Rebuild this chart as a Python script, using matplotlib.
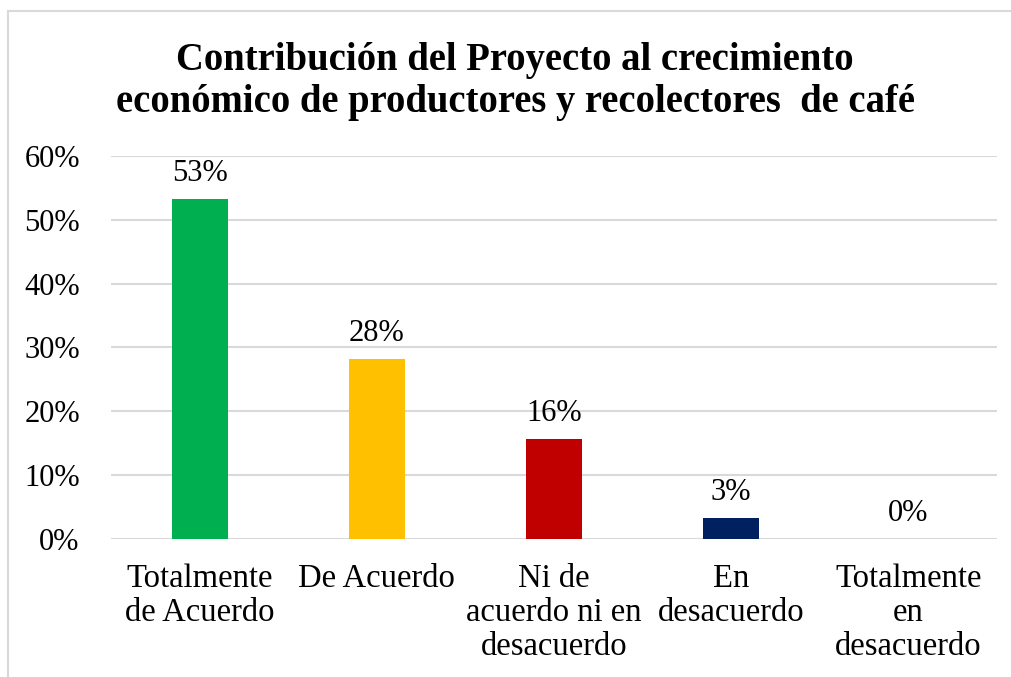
import matplotlib
matplotlib.use("Agg")
import matplotlib.pyplot as plt
from matplotlib.lines import Line2D

categories = ["Totalmente\nde Acuerdo", "De Acuerdo", "Ni de\nacuerdo ni en\ndesacuerdo",
              "En\ndesacuerdo", "Totalmente\nen\ndesacuerdo"]
values = [53.3, 28.2, 15.7, 3.3, 0.0]
colors = ["#00B050", "#FFC000", "#C00000", "#002060", "#4472C4"]
yticks = [0, 10, 20, 30, 40, 50, 60]
title = "Contribución del Proyecto al crecimiento\neconómico de productores y recolectores  de café"

plt.rcParams['font.family'] = ['Liberation Serif', 'DejaVu Serif']

W, H = 1011, 677
fig = plt.figure(figsize=(W / 100, H / 100), dpi=100)
ax = fig.add_axes([111 / W, 1 - 539 / H, (997 - 111) / W, (539 - 156) / H])

x = list(range(len(categories)))
ax.bar(x, values, width=0.316, color=colors, zorder=3)
for xi, v in zip(x, values):
    ax.annotate(f"{round(v):.0f}%", (xi, v), xytext=(0, 8), textcoords="offset points",
                ha="center", va="bottom", fontsize=22, color="#000000")

ax.set_xlim(-0.5, len(categories) - 0.5)
ax.set_ylim(0, 60)
ax.set_yticks(yticks)
ax.set_yticklabels([f"{t}%" for t in yticks], fontsize=22)
ax.set_xticks(x)
ax.set_xticklabels(categories, fontsize=23.5, linespacing=1.16)
ax.tick_params(axis='x', length=0, pad=17.5)
ax.tick_params(axis='y', length=0, pad=22.5)
ax.grid(axis='y', color="#D9D9D9", linewidth=1.5, zorder=0)
for s in ax.spines.values():
    s.set_visible(False)

fig.text(515 / W, 1 - 81.5 / H, title, ha="center", va="center", fontsize=27.8,
         fontweight="bold", linespacing=1.2)

fig.add_artist(Line2D([8 / W, 1], [1 - 11 / H, 1 - 11 / H], color="#D9D9D9", linewidth=1.5,
                      transform=fig.transFigure))
fig.add_artist(Line2D([8 / W, 8 / W], [1 - 11 / H, 0], color="#D9D9D9", linewidth=1.5,
                      transform=fig.transFigure))

fig.savefig("out.png", dpi=100)
